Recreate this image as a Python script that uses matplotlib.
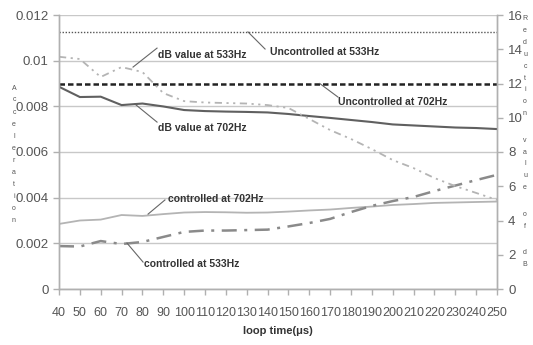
import numpy as np
import matplotlib
matplotlib.use("Agg")
import matplotlib.pyplot as plt

# loop time (µs)
loop_time = [40, 50, 60, 70, 80, 90, 100, 110, 120, 130, 140, 150, 160,
             170, 180, 190, 200, 210, 220, 230, 240, 250]

# acceleration, left axis
uncontrolled_533 = 0.01125
uncontrolled_702 = 0.009
controlled_702 = [0.00285, 0.0030, 0.00304, 0.00324, 0.0032, 0.00328, 0.00335,
                  0.00337, 0.00336, 0.00334, 0.00335, 0.00339, 0.00344, 0.00348,
                  0.00355, 0.00361, 0.00368, 0.00372, 0.00377, 0.00379, 0.00381,
                  0.00383]
controlled_533 = [0.00188, 0.00186, 0.0021, 0.00197, 0.00206, 0.00228, 0.0025,
                  0.00256, 0.00256, 0.00258, 0.0026, 0.00274, 0.00289, 0.00307,
                  0.00337, 0.00364, 0.00385, 0.00403, 0.00429, 0.00453, 0.00477,
                  0.005]

# reduction value of dB, right axis
db_702 = [11.81, 11.21, 11.23, 10.74, 10.83, 10.66, 10.45, 10.39, 10.36, 10.34,
          10.31, 10.22, 10.10, 9.99, 9.87, 9.75, 9.61, 9.55, 9.49, 9.43, 9.40,
          9.34]
db_533 = [13.56, 13.43, 12.38, 12.96, 12.67, 11.44, 10.97, 10.89, 10.86, 10.83,
          10.74, 10.57, 9.93, 9.28, 8.76, 8.17, 7.53, 7.06, 6.48, 6.01, 5.61,
          5.20]

left_ticks = [0, 0.002, 0.004, 0.006, 0.008, 0.01, 0.012]
left_labels = ["0", "0.002", "0.004", "0.006", "0.008", "0.01", "0.012"]
right_ticks = [0, 2, 4, 6, 8, 10, 12, 14, 16]

label_font = ["Liberation Sans", "DejaVu Sans"]
tick_color = "#555555"
spine_color = "#b0b0b0"

W, H = 533, 345
fig = plt.figure(figsize=(W / 100, H / 100), dpi=100)
ax = fig.add_axes([59 / W, 1 - 289 / H, (497 - 59) / W, (289 - 15) / H])
ax2 = ax.twinx()

ax.set_xlim(40, 250)
ax.set_ylim(0, 0.012)
ax2.set_ylim(0, 16)

ax.set_yticks(left_ticks)
ax.set_yticklabels(left_labels)
ax.set_xticks(loop_time)
ax.set_xticklabels([str(t) for t in loop_time])
ax2.set_yticks(right_ticks)

ax.grid(axis="y", color="#c8c8c8", linewidth=1.0)
ax.set_axisbelow(True)

for a in (ax, ax2):
    a.spines["top"].set_visible(False)
    for side in ("left", "right", "bottom"):
        a.spines[side].set_color(spine_color)
        a.spines[side].set_linewidth(1.0)
for lab in ax.get_xticklabels() + ax.get_yticklabels() + ax2.get_yticklabels():
    lab.set_family(label_font)
ax.tick_params(axis="both", colors=spine_color, labelcolor=tick_color,
               labelsize=9.5, length=4, width=1)
ax.tick_params(axis="x", pad=9, labelsize=9)
ax2.tick_params(axis="y", colors=spine_color, labelcolor=tick_color,
                labelsize=9.5, length=4, width=1, pad=4)

# acceleration curves
ax.axhline(uncontrolled_533, color="#555555", linewidth=1.0,
           linestyle=(0, (1, 1.2)))
ax.axhline(uncontrolled_702, color="#222222", linewidth=1.8,
           linestyle=(0, (2.2, 1.2)))
ax.plot(loop_time, controlled_702, color="#b4b4b4", linewidth=1.3)
ax.plot(loop_time, controlled_533, color="#8a8a8a", linewidth=1.8,
        linestyle=(0, (6, 3, 1.2, 3)))

# dB reduction curves
ax2.plot(loop_time, db_702, color="#606060", linewidth=1.5)
ax2.plot(loop_time, db_533, color="#b4b4b4", linewidth=1.3,
         linestyle=(0, (4, 2.5, 1.2, 2.5, 1.2, 2.5)))

# callouts: text, leader start, leader end, text anchor (left-axis data units)
callouts = [
    ("dB value at 533Hz", (75.5, 0.00972), (87.0, 0.01055), (87.5, 0.01025)),
    ("Uncontrolled at 533Hz", (130.6, 0.01126), (138.8, 0.01051), (141.0, 0.01038)),
    ("Uncontrolled at 702Hz", (165.0, 0.009), (173.7, 0.00841), (173.7, 0.00819)),
    ("dB value at 702Hz", (76.4, 0.0081), (87.0, 0.00731), (87.5, 0.00705)),
    ("controlled at 702Hz", (82.7, 0.00328), (90.8, 0.0039), (92.3, 0.00394)),
    ("controlled at 533Hz", (72.6, 0.00201), (80.3, 0.00118), (80.7, 0.00109)),
]
for text, start, end, text_pos in callouts:
    ax.plot([start[0], end[0]], [start[1], end[1]], color="#666666",
            linewidth=0.8)
    ax.text(text_pos[0], text_pos[1], text, family=label_font, fontsize=7.5,
            fontweight="bold", color="#333333", ha="left", va="center")

ax.set_xlabel("loop time(\u03bcs)", family=label_font, fontsize=8,
              fontweight="bold", color="#333333", labelpad=5)

# axis titles written as columns of stacked letters
def stacked(word, x_px, y_start, step, space_step):
    y = y_start
    for ch in word:
        if ch == " ":
            y += space_step
            continue
        fig.text(x_px / W, 1 - y / H, ch, family=label_font, fontsize=5,
                 color="#555555", ha="center", va="center")
        y += step

stacked("Acceleration", 14, 88, 12, 0)
stacked("Reduction value of dB", 525, 19, 11.8, 15)

fig.savefig("out.png", dpi=100)
